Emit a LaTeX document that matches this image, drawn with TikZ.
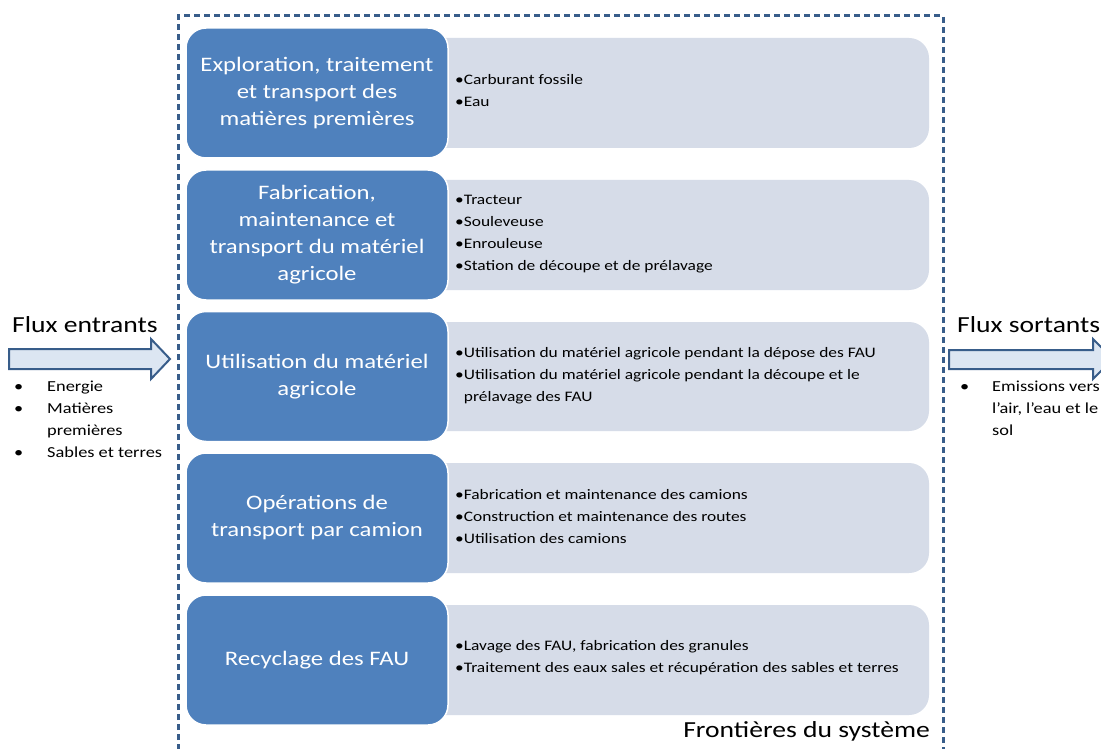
\documentclass[tikz,border=0pt]{standalone}
\usepackage{fontspec}
\setmainfont{Carlito}[FakeStretch=1.2]
\usepackage{xcolor}
\usepackage{tikz}
\usetikzlibrary{positioning}

\definecolor{stageblue}{HTML}{4F81BD}
\definecolor{detailgray}{HTML}{D6DCE8}
\definecolor{frameblue}{HTML}{385D8A}
\definecolor{arrowfill}{HTML}{DCE6F2}

\begin{document}
\begin{tikzpicture}[x=1pt,y=-1pt,
  stage/.style={draw=white, line width=1.5pt, fill=stageblue, rounded corners=20pt,
    minimum width=262pt, minimum height=130pt, text=white, align=center,
    font=\fontsize{20.6}{27}\selectfont},
  detail/.style={fill=detailgray, rounded corners=20pt},
  items/.style={anchor=west, align=left, inner sep=0pt, font=\fontsize{14.5}{22}\selectfont},
  flux/.style={draw=frameblue, line width=2pt, fill=arrowfill},
  title/.style={inner sep=0pt, font=\fontsize{23}{27}\selectfont}]

\fill [white] (0,0) rectangle (1101,749);
\clip (0,0) rectangle (1101,749);

% system frame
\draw [frameblue, line width=3pt, dash pattern=on 6pt off 4pt]
  (178,760) -- (178,16) -- (943,16) -- (943,760);
\node [title, anchor=east] (front) at (930,731) {Frontières du système};

% light boxes
\fill [detail] (420,38) rectangle (929,148);
\fill [detail] (420,180) rectangle (929,290);
\fill [detail] (420,322) rectangle (929,431);
\fill [detail] (420,463) rectangle (929,573);
\fill [detail] (420,605) rectangle (929,715);

% stages
\node [stage] (st1) at (317,93) {Exploration, traitement\\et transport des\\matières premières};
\node [stage] (st2) at (317,235) {Fabrication,\\maintenance et\\transport du matériel\\agricole};
\node [stage] (st3) at (317,376.5) {Utilisation du matériel\\agricole};
\node [stage] (st4) at (317,518) {Opérations de\\transport par camion};
\node [stage] (st5) at (317,660) {Recyclage des FAU};

% details
\node [items] (it1) at (455,91) {•Carburant fossile\\•Eau};
\node [items] (it2) at (455,234) {•Tracteur\\•Souleveuse\\•Enrouleuse\\•Station de découpe et de prélavage};
\node [items] (it3) at (455,376) {•Utilisation du matériel agricole pendant la dépose des FAU\\
  •Utilisation du matériel agricole pendant la découpe et le\\\phantom{•}prélavage des FAU};
\node [items] (it4) at (455,517) {•Fabrication et maintenance des camions\\
  •Construction et maintenance des routes\\•Utilisation des camions};
\node [items] (it5) at (455,658) {•Lavage des FAU, fabrication des granules\\
  •Traitement des eaux sales et récupération des sables et terres};

% incoming flows
\node [title, anchor=west] (fin) at (12,325) {Flux entrants};
\draw [flux] (9,349) -- (151,349) -- (151,339) -- (170,359) -- (151,379)
  -- (151,369) -- (9,369) -- cycle;
\node [items, anchor=north west, font=\fontsize{15.3}{22}\selectfont] (lin) at (14,375.5)
  {\begin{tabular}{@{}p{33pt}@{}l@{}}
  • & Energie\\ • & Matières\\ & premières\\ • & Sables et terres\end{tabular}};

% outgoing flows
\node [title, anchor=west] (fout) at (957,325) {Flux sortants};
\draw [flux] (949,350) -- (1093,350) -- (1093,339) -- (1113,359) -- (1093,379)
  -- (1093,369) -- (949,369) -- cycle;
\node [items, anchor=north west, font=\fontsize{15.3}{22}\selectfont] (lout) at (960,375.5)
  {\begin{tabular}{@{}p{32pt}@{}l@{}}
  • & Emissions vers\\ & l’air, l’eau et le\\ & sol\end{tabular}};

\end{tikzpicture}
\end{document}
